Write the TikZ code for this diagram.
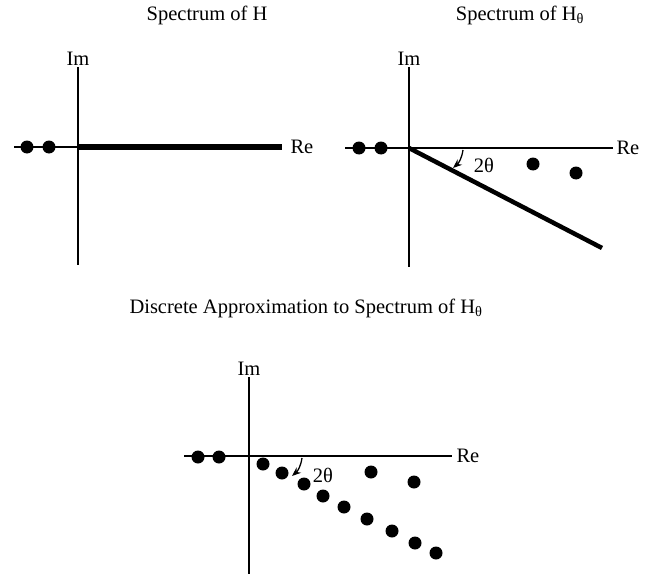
\documentclass[tikz,border=0pt]{standalone}
\usepackage{fontspec}
\setmainfont{Liberation Serif}
\usetikzlibrary{arrows.meta,positioning}
\newcommand{\Hth}{H\textsubscript{θ}}

\begin{document}
\begin{tikzpicture}[x=1pt,y=-1pt,font=\fontsize{20.5}{24}\selectfont,
  axis/.style={line width=2.8pt},
  eig/.style={circle, fill, inner sep=0pt, minimum size=13pt},
  angarr/.style={line width=1.3pt, -{Stealth[length=9pt,width=7pt]}}]
\useasboundingbox (0,0) rectangle (651,578);
% Spectrum of H
\node (t1) at (207,15) {Spectrum of H};
\coordinate (o1) at (78,147);
\coordinate (w1) at (14,147);
\coordinate (e1) at (282,147);
\coordinate (n1) at (78,67);
\coordinate (s1) at (78,265);
\draw[axis] (w1) -- (e1);
\draw[axis] (n1) -- (s1);
\draw[line width=6pt] (o1) -- (e1);
\node[above=-2pt of n1] (im1) {Im};
\node[right=5pt of e1] (re1) {Re};
\node[eig] (p1a) at (27,147) {};
\node[eig] (p1b) at (49,147) {};
% Spectrum of H_theta
\node (t2) at (520,15) {Spectrum of \Hth};
\coordinate (o2) at (409,148);
\coordinate (w2) at (345,148);
\coordinate (e2) at (613,148);
\coordinate (n2) at (409,67);
\coordinate (s2) at (409,267);
\coordinate (r2) at (602,248);
\draw[axis] (w2) -- (e2);
\draw[axis] (n2) -- (s2);
\draw[line width=4.5pt] (o2) -- (r2);
\node[above=-2pt of n2] (im2) {Im};
\node[right=0pt of e2] (re2) {Re};
\node[eig] (p2a) at (359,148) {};
\node[eig] (p2b) at (381,148) {};
\node[eig] (q2a) at (533,164) {};
\node[eig] (q2b) at (576,173) {};
\coordinate (a2s) at (463,150);
\coordinate (a2e) at (453,168);
\draw[angarr] (a2s) to[bend left=20] (a2e);
\node (l2) at (484,165) {2θ};
% Discrete approximation
\node (t3) at (306,308) {Discrete Approximation to Spectrum of \Hth};
\coordinate (o3) at (249,456);
\coordinate (w3) at (184,456);
\coordinate (e3) at (452,456);
\coordinate (n3) at (249,377);
\coordinate (s3) at (249,574);
\draw[axis] (w3) -- (e3);
\draw[axis] (n3) -- (s3);
\node[above=-2pt of n3] (im3) {Im};
\node[right=1pt of e3] (re3) {Re};
\node[eig] (p3a) at (198,457) {};
\node[eig] (p3b) at (219,457) {};
\node[eig] (d3a) at (263,464) {};
\node[eig] (d3b) at (282,473) {};
\node[eig] (d3c) at (304,484) {};
\node[eig] (d3d) at (323,496) {};
\node[eig] (d3e) at (344,507) {};
\node[eig] (d3f) at (367,519) {};
\node[eig] (d3g) at (392,531) {};
\node[eig] (d3h) at (415,543) {};
\node[eig] (d3i) at (436,553) {};
\node[eig] (q3a) at (371,472) {};
\node[eig] (q3b) at (414,482) {};
\coordinate (a3s) at (302,458);
\coordinate (a3e) at (292,476);
\draw[angarr] (a3s) to[bend left=20] (a3e);
\node (l3) at (323,475) {2θ};
\end{tikzpicture}
\end{document}
